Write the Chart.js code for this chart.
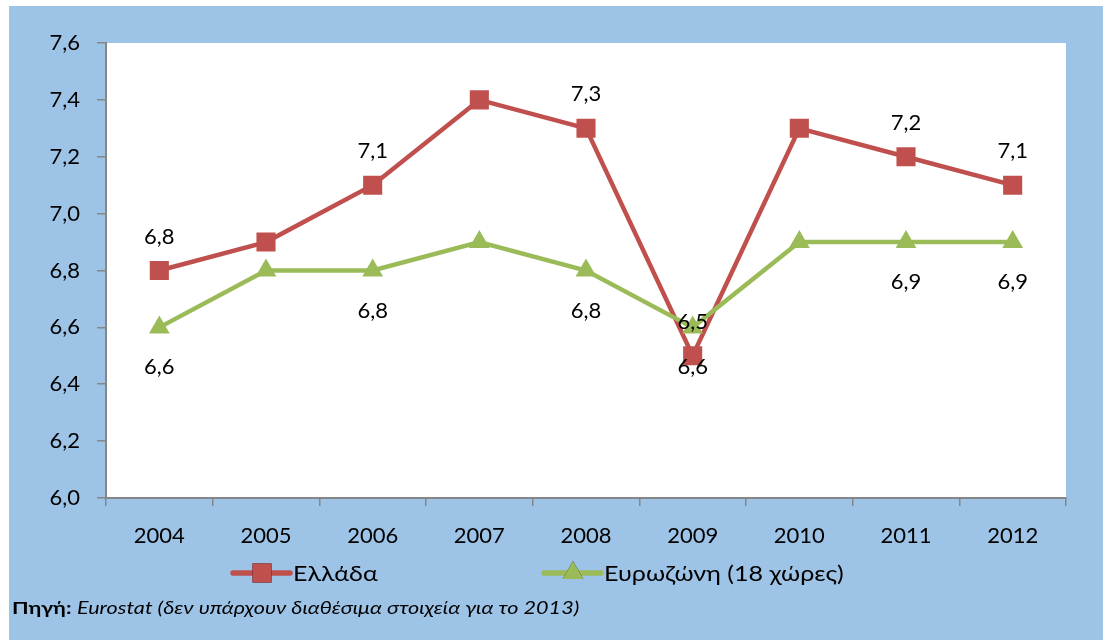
<!DOCTYPE html>
<html lang="el">
<head>
<meta charset="utf-8">
<title>Ελλάδα – Ευρωζώνη 2004–2012</title>
<script src="https://cdn.jsdelivr.net/npm/chart.js@4/dist/chart.umd.min.js"></script>
<style>
  html, body { margin: 0; padding: 0; background: #ffffff; }
  body { width: 1103px; height: 640px; position: relative; overflow: hidden; font-family: Lato, "Open Sans", sans-serif; }
  #panel { position: absolute; left: 9px; top: 6px; width: 1094px; height: 634px; background: #9DC3E6; }
  #wrap { position: absolute; left: 0; top: 0; width: 1094px; height: 634px; }
  #source { position: absolute; left: 3px; top: 592px; font-size: 17px; line-height: 20px; color: #000; white-space: nowrap;
            transform: scaleX(1.27); transform-origin: 0 0; }
  #source b { font-weight: 700; }
  #source i { font-style: italic; }
</style>
</head>
<body>
<div id="panel">
  <div id="wrap"><canvas id="chart"></canvas></div>
  <div id="source"><b>Πηγή:</b> <i>Eurostat (δεν υπάρχουν διαθέσιμα στοιχεία για το 2013)</i></div>
</div>
<script>
// Years on the category axis
const years = ['2004', '2005', '2006', '2007', '2008', '2009', '2010', '2011', '2012'];

// Series values
const greece = [6.8, 6.9, 7.1, 7.4, 7.3, 6.5, 7.3, 7.2, 7.1];
const eurozone = [6.6, 6.8, 6.8, 6.9, 6.8, 6.6, 6.9, 6.9, 6.9];

// Series names
const seriesNames = ['Ελλάδα', 'Ευρωζώνη (18 χώρες)'];

// Which points carry a value label (by index)
const greeceLabelled = [0, 2, 4, 5, 7, 8];
const eurozoneLabelled = [0, 2, 4, 5, 7, 8];

// Value axis range and ticks
const yMin = 6.0, yMax = 7.6, yStep = 0.2;

const RED = '#C0504D';
const GREEN = '#9BBB59';
const AXIS = '#868686';
const FONT = 'Lato, "Open Sans", sans-serif';

const fmt = v => v.toFixed(1).replace('.', ',');

// White plot area
const plotBackground = {
  id: 'plotBackground',
  beforeDraw(chart) {
    const { ctx, chartArea: a } = chart;
    ctx.save();
    ctx.fillStyle = '#ffffff';
    ctx.fillRect(a.left, a.top, a.right - a.left, a.bottom - a.top);
    ctx.restore();
  }
};

// Value labels above (first series) and below (second series) the markers
const valueLabels = {
  id: 'valueLabels',
  afterDatasetsDraw(chart) {
    const { ctx } = chart;
    const specs = [
      { ds: 0, idx: greeceLabelled, dy: -34 },
      { ds: 1, idx: eurozoneLabelled, dy: 40 }
    ];
    ctx.save();
    ctx.font = '22px ' + FONT;
    ctx.fillStyle = '#000000';
    ctx.textAlign = 'center';
    ctx.textBaseline = 'middle';
    specs.forEach(s => {
      const meta = chart.getDatasetMeta(s.ds);
      const data = chart.data.datasets[s.ds].data;
      s.idx.forEach(i => {
        const pt = meta.data[i];
        ctx.fillText(fmt(data[i]), pt.x, pt.y + s.dy);
      });
    });
    ctx.restore();
  }
};

// Legend with a line segment through the marker, centred below the axis
const lineLegend = {
  id: 'lineLegend',
  afterDraw(chart) {
    const { ctx } = chart;
    const y = 567;
    const items = [
      { x: 224, ds: 0 },
      { x: 535, ds: 1 }
    ];
    ctx.save();
    ctx.font = '22px ' + FONT;
    ctx.textBaseline = 'middle';
    ctx.textAlign = 'left';
    items.forEach(it => {
      const d = chart.data.datasets[it.ds];
      ctx.strokeStyle = d.borderColor;
      ctx.lineWidth = 5.5;
      ctx.lineCap = 'round';
      ctx.beginPath();
      ctx.moveTo(it.x, y);
      ctx.lineTo(it.x + 57, y);
      ctx.stroke();
      Chart.helpers.drawPoint(ctx, {
        pointStyle: d.pointStyle,
        radius: d.pointRadius,
        rotation: 0,
        borderWidth: 0
      }, it.x + 29, y);
      ctx.fillStyle = d.pointBackgroundColor;
      ctx.fill();
      ctx.fillStyle = '#000000';
      ctx.save();
      ctx.translate(it.x + 60, y + 1);
      ctx.scale(1.14, 1);
      ctx.fillText(d.label, 0, 0);
      ctx.restore();
    });
    ctx.restore();
  }
};

new Chart(document.getElementById('chart'), {
  type: 'line',
  data: {
    labels: years,
    datasets: [
      {
        label: seriesNames[0],
        data: greece,
        borderColor: RED,
        backgroundColor: RED,
        pointBackgroundColor: RED,
        pointBorderColor: RED,
        borderWidth: 4.5,
        pointStyle: 'rect',
        pointRadius: 13.5,
        pointBorderWidth: 0,
        tension: 0,
        order: 1
      },
      {
        label: seriesNames[1],
        data: eurozone,
        borderColor: GREEN,
        backgroundColor: GREEN,
        pointBackgroundColor: GREEN,
        pointBorderColor: GREEN,
        borderWidth: 4.5,
        pointStyle: 'triangle',
        pointRadius: 12,
        pointBorderWidth: 0,
        tension: 0,
        order: 0
      }
    ]
  },
  options: {
    responsive: true,
    maintainAspectRatio: false,
    animation: false,
    events: [],
    layout: { padding: { left: 0, top: 37, right: 37, bottom: 92 } },
    plugins: {
      legend: { display: false },
      tooltip: { enabled: false },
      title: { display: false }
    },
    scales: {
      x: {
        offset: true,
        grid: {
          offset: true,
          drawOnChartArea: false,
          drawTicks: true,
          tickLength: 8,
          color: AXIS,
          lineWidth: 1.5
        },
        border: { display: true, color: AXIS, width: 2 },
        ticks: { color: '#000000', font: { family: FONT, size: 22 }, padding: 17, maxRotation: 0 },
        afterFit(scale) { scale.height = 50; }
      },
      y: {
        min: yMin,
        max: yMax,
        grid: {
          drawOnChartArea: false,
          drawTicks: true,
          tickLength: 9,
          color: AXIS,
          lineWidth: 1.5
        },
        border: { display: true, color: AXIS, width: 2 },
        ticks: {
          stepSize: yStep,
          color: '#000000',
          font: { family: FONT, size: 22 },
          padding: 17,
          callback: v => fmt(v)
        },
        afterFit(scale) { scale.width = 97; }
      }
    }
  },
  plugins: [plotBackground, valueLabels, lineLegend]
});
</script>
</body>
</html>
